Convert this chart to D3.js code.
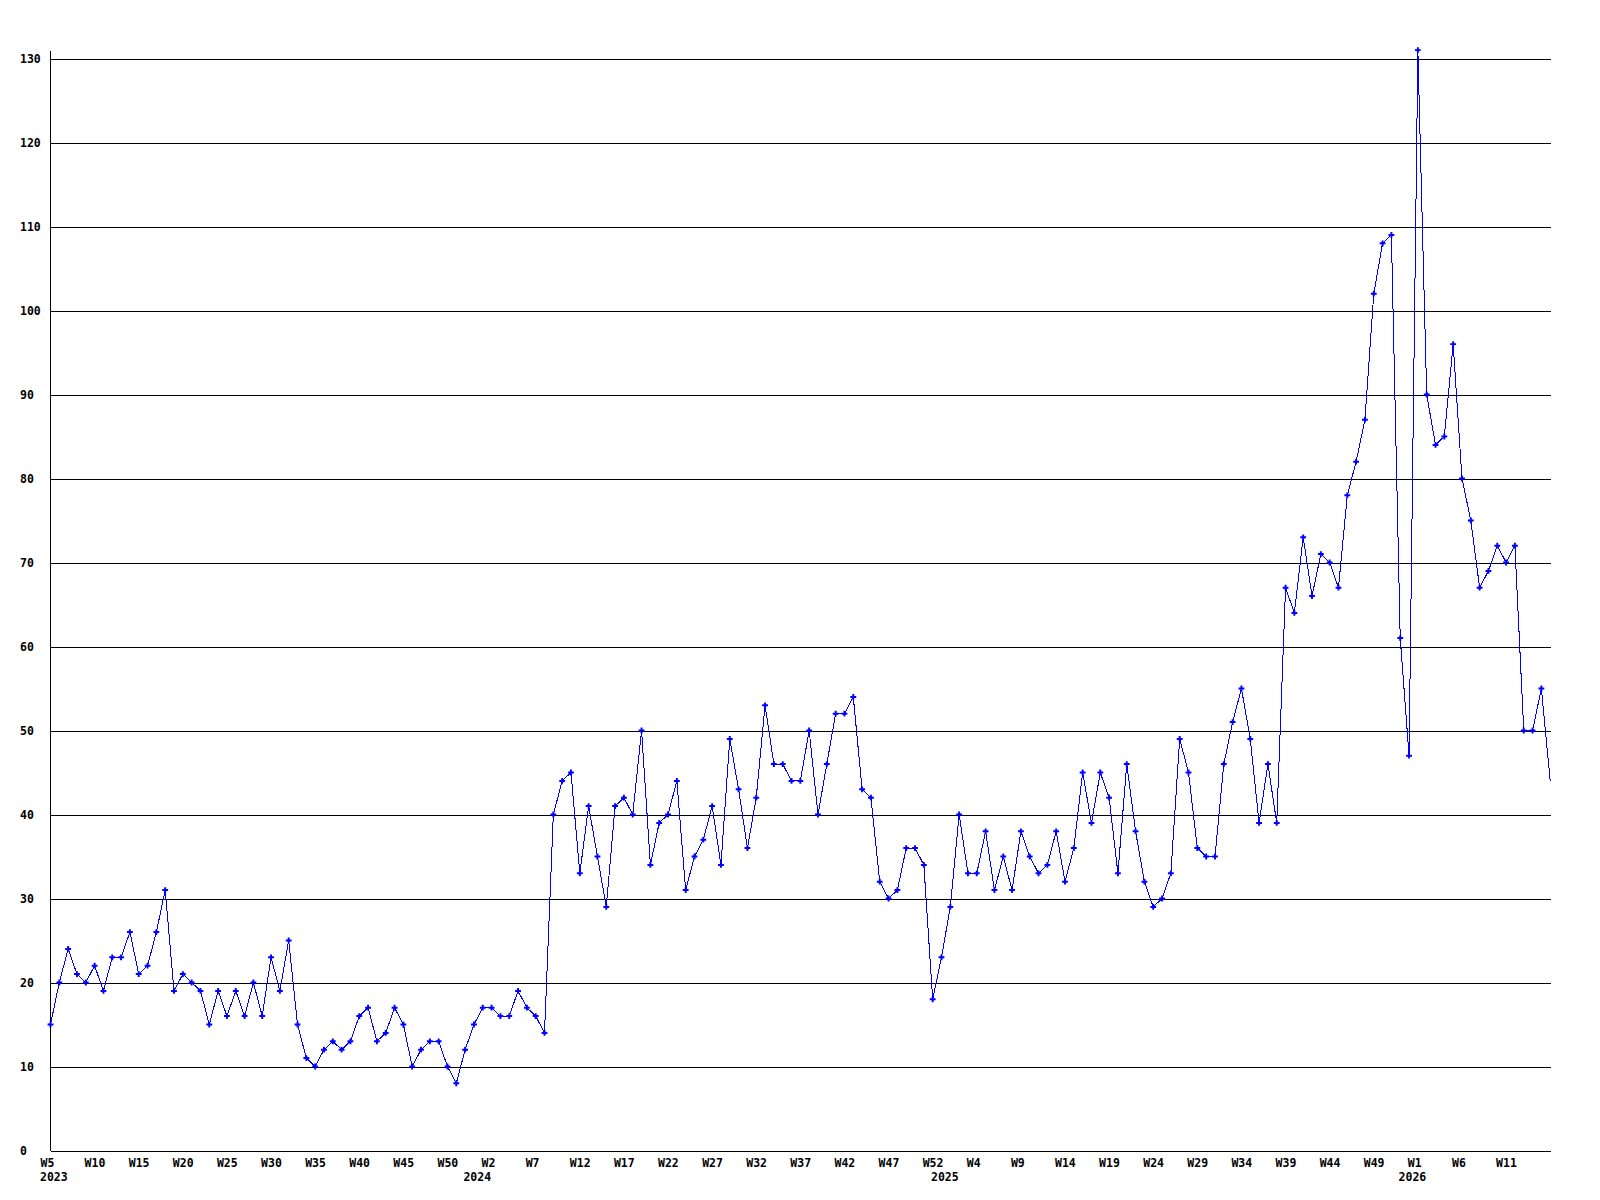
<!DOCTYPE html>
<html>
<head>
<meta charset="utf-8">
<script src="https://cdn.jsdelivr.net/npm/d3@7"></script>
<style>
  html, body { margin: 0; padding: 0; background: #ffffff; }
  svg { display: block; }
  text { font-family: "DejaVu Sans Mono", "Liberation Mono", monospace; font-weight: bold; font-size: 11.5px; fill: #000; }
</style>
</head>
<body>
<div id="chart"></div>
<script>
// ---- data ----
const categoryYears = [2023, 2024, 2025, 2026];
const firstWeek = [5, 0, 0, 0];
const lastWeek = [52, 52, 52, 16];

const values = [
  15,20,24,21,20,22,19,23,23,26,21,22,26,31,19,21,20,19,15,19,16,19,16,20,16,23,19,25,15,11,
  10,12,13,12,13,16,17,13,14,17,15,10,12,13,13,10,8,12,15,17,17,16,16,19,17,16,14,
  40,44,45,33,41,35,29,41,42,40,50,34,39,40,44,31,35,37,41,34,49,43,36,42,53,46,46,44,
  44,50,40,46,52,52,54,43,42,32,30,31,36,36,34,18,23,29,40,33,33,38,31,35,31,38,35,33,34,
  38,32,36,45,39,45,42,33,46,38,32,29,30,33,49,45,36,35,35,46,51,55,49,39,46,39,
  67,64,73,66,71,70,67,78,82,87,102,108,109,61,47,131,90,84,85,96,80,75,67,69,72,70,72,50,50,55,44
];

const yTicks = [0,10,20,30,40,50,60,70,80,90,100,110,120,130];
const weekLabelStep = 5;

// build categories (year, week) from ranges
const categories = [];
categoryYears.forEach((yr, k) => {
  for (let w = firstWeek[k]; w <= lastWeek[k]; w++) categories.push({ year: yr, week: w });
});

// ---- layout ----
const width = 1600, height = 1200;
const svg = d3.select("#chart").append("svg")
  .attr("width", width).attr("height", height);
svg.append("rect").attr("width", width).attr("height", height).attr("fill", "#fff");

const x = d3.scaleLinear().domain([0, categories.length - 1]).range([50.5, 1550.2]);
const y = d3.scaleLinear().domain([0, 130]).range([1150.5, 58.5]);
const plotLeft = 50.5, plotRight = 1551;

// y axis + gridlines
const yAxis = d3.axisLeft(y).tickValues(yTicks).tickSize(-(plotRight - plotLeft)).tickSizeOuter(0);
const gy = svg.append("g").attr("transform", `translate(${plotLeft},0)`).call(yAxis);
gy.select(".domain").remove();
gy.selectAll(".tick line").attr("stroke", "#000").attr("shape-rendering", "crispEdges");
gy.selectAll(".tick text")
  .attr("x", 20 - plotLeft).attr("dy", null).attr("y", 4)
  .attr("text-anchor", "start").attr("fill", "#000");

// vertical axis line
svg.append("line")
  .attr("x1", plotLeft).attr("x2", plotLeft)
  .attr("y1", y(130) - 8).attr("y2", y(0))
  .attr("stroke", "#000").attr("shape-rendering", "crispEdges");

// x axis labels (week)
const labelIdx = d3.range(0, categories.length - 1, weekLabelStep);
const xAxis = d3.axisBottom(x).tickValues(labelIdx).tickSize(0).tickSizeOuter(0)
  .tickFormat(i => "W" + categories[i].week);
const gx = svg.append("g").attr("transform", `translate(0,${y(0)})`).call(xAxis);
gx.select(".domain").remove();
gx.selectAll(".tick text")
  .attr("text-anchor", "start").attr("x", -10.5).attr("dy", null).attr("y", 16.5).attr("fill", "#000");

// year labels at first point of each year
const yearStarts = categoryYears.map(yr => categories.findIndex(c => c.year === yr));
svg.append("g").selectAll("text").data(yearStarts).join("text")
  .attr("x", i => x(i) - 10.5).attr("y", 1181)
  .attr("text-anchor", "start")
  .text(i => categories[i].year);

// line
const line = d3.line().x((d, i) => x(i)).y(d => y(d));
svg.append("path").datum(values)
  .attr("d", line)
  .attr("fill", "none").attr("stroke", "#0000ff").attr("stroke-width", 1)
  .attr("shape-rendering", "crispEdges");

// markers (last point sits on the plot edge, no marker)
svg.append("g").selectAll("path").data(values.slice(0, values.length - 1)).join("path")
  .attr("transform", (d, i) => `translate(${x(i)},${y(d)})`)
  .attr("d", d3.symbol(d3.symbolCross, 19)())
  .attr("fill", "#0000ff");
</script>
</body>
</html>
